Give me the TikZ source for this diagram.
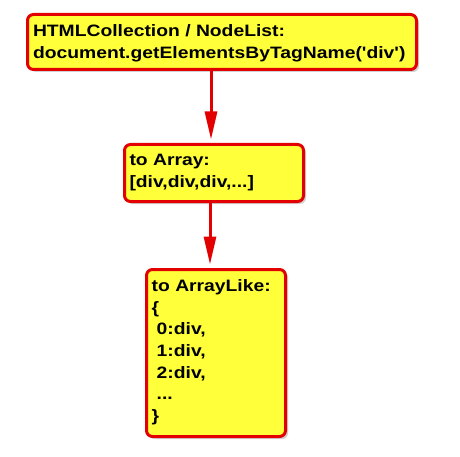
\documentclass[tikz,border=0pt]{standalone}
\usepackage{fontspec}
\newfontfamily\labfont{Liberation Sans}[FakeStretch=1.17]
\usetikzlibrary{arrows.meta,shadows}
\definecolor{boxred}{RGB}{226,0,0}
\definecolor{boxyellow}{RGB}{255,255,58}
\tikzset{
  box/.style={draw=boxred, fill=boxyellow, line width=3pt, rounded corners=6pt,
    anchor=north west, outer sep=0pt, inner sep=0pt,
    drop shadow={shadow xshift=2.5pt, shadow yshift=-2.5pt, fill=black, opacity=0.18}},
  lab/.style={anchor=base west, inner sep=0pt, outer sep=0pt},
  arr/.style={draw=boxred, line width=3pt, shorten >=5pt,
    -{Triangle[length=28pt,width=12pt]}}
}
\newcommand{\lines}[1]{\parbox[t]{380pt}{\labfont\bfseries\fontsize{16.5}{21.6}\selectfont #1}}
\newcommand{\ind}{\hspace*{5pt}}
\begin{document}
\begin{tikzpicture}[x=1pt,y=-1pt]
\useasboundingbox[fill=white] (0,0) rectangle (460,457);
\node[box, minimum width=389pt, minimum height=55pt] (b1) at (27.5,14.5) {};
\node[box, minimum width=179pt, minimum height=57pt] (b2) at (124.5,144.5) {};
\node[box, minimum width=139pt, minimum height=167pt] (b3) at (146.5,269.5) {};
\node[lab] (t1) at (33,36.7) {\lines{HTMLCollection / NodeList:\\document.getElementsByTagName('div')}};
\node[lab] (t2) at (129.5,165.7) {\lines{to Array:\\{}[div,div,div,...]}};
\node[lab] (t3) at (151.7,291.7) {\lines{to ArrayLike:\\\{\\\ind 0:div,\\\ind 1:div,\\\ind 2:div,\\\ind ...\\\}}};
\coordinate (c1) at (211,0);
\coordinate (c2) at (210,0);
\draw[arr] (b1.south -| c1) -- (b2.north -| c1);
\draw[arr] (b2.south -| c2) -- (b3.north -| c2);
\end{tikzpicture}
\end{document}
